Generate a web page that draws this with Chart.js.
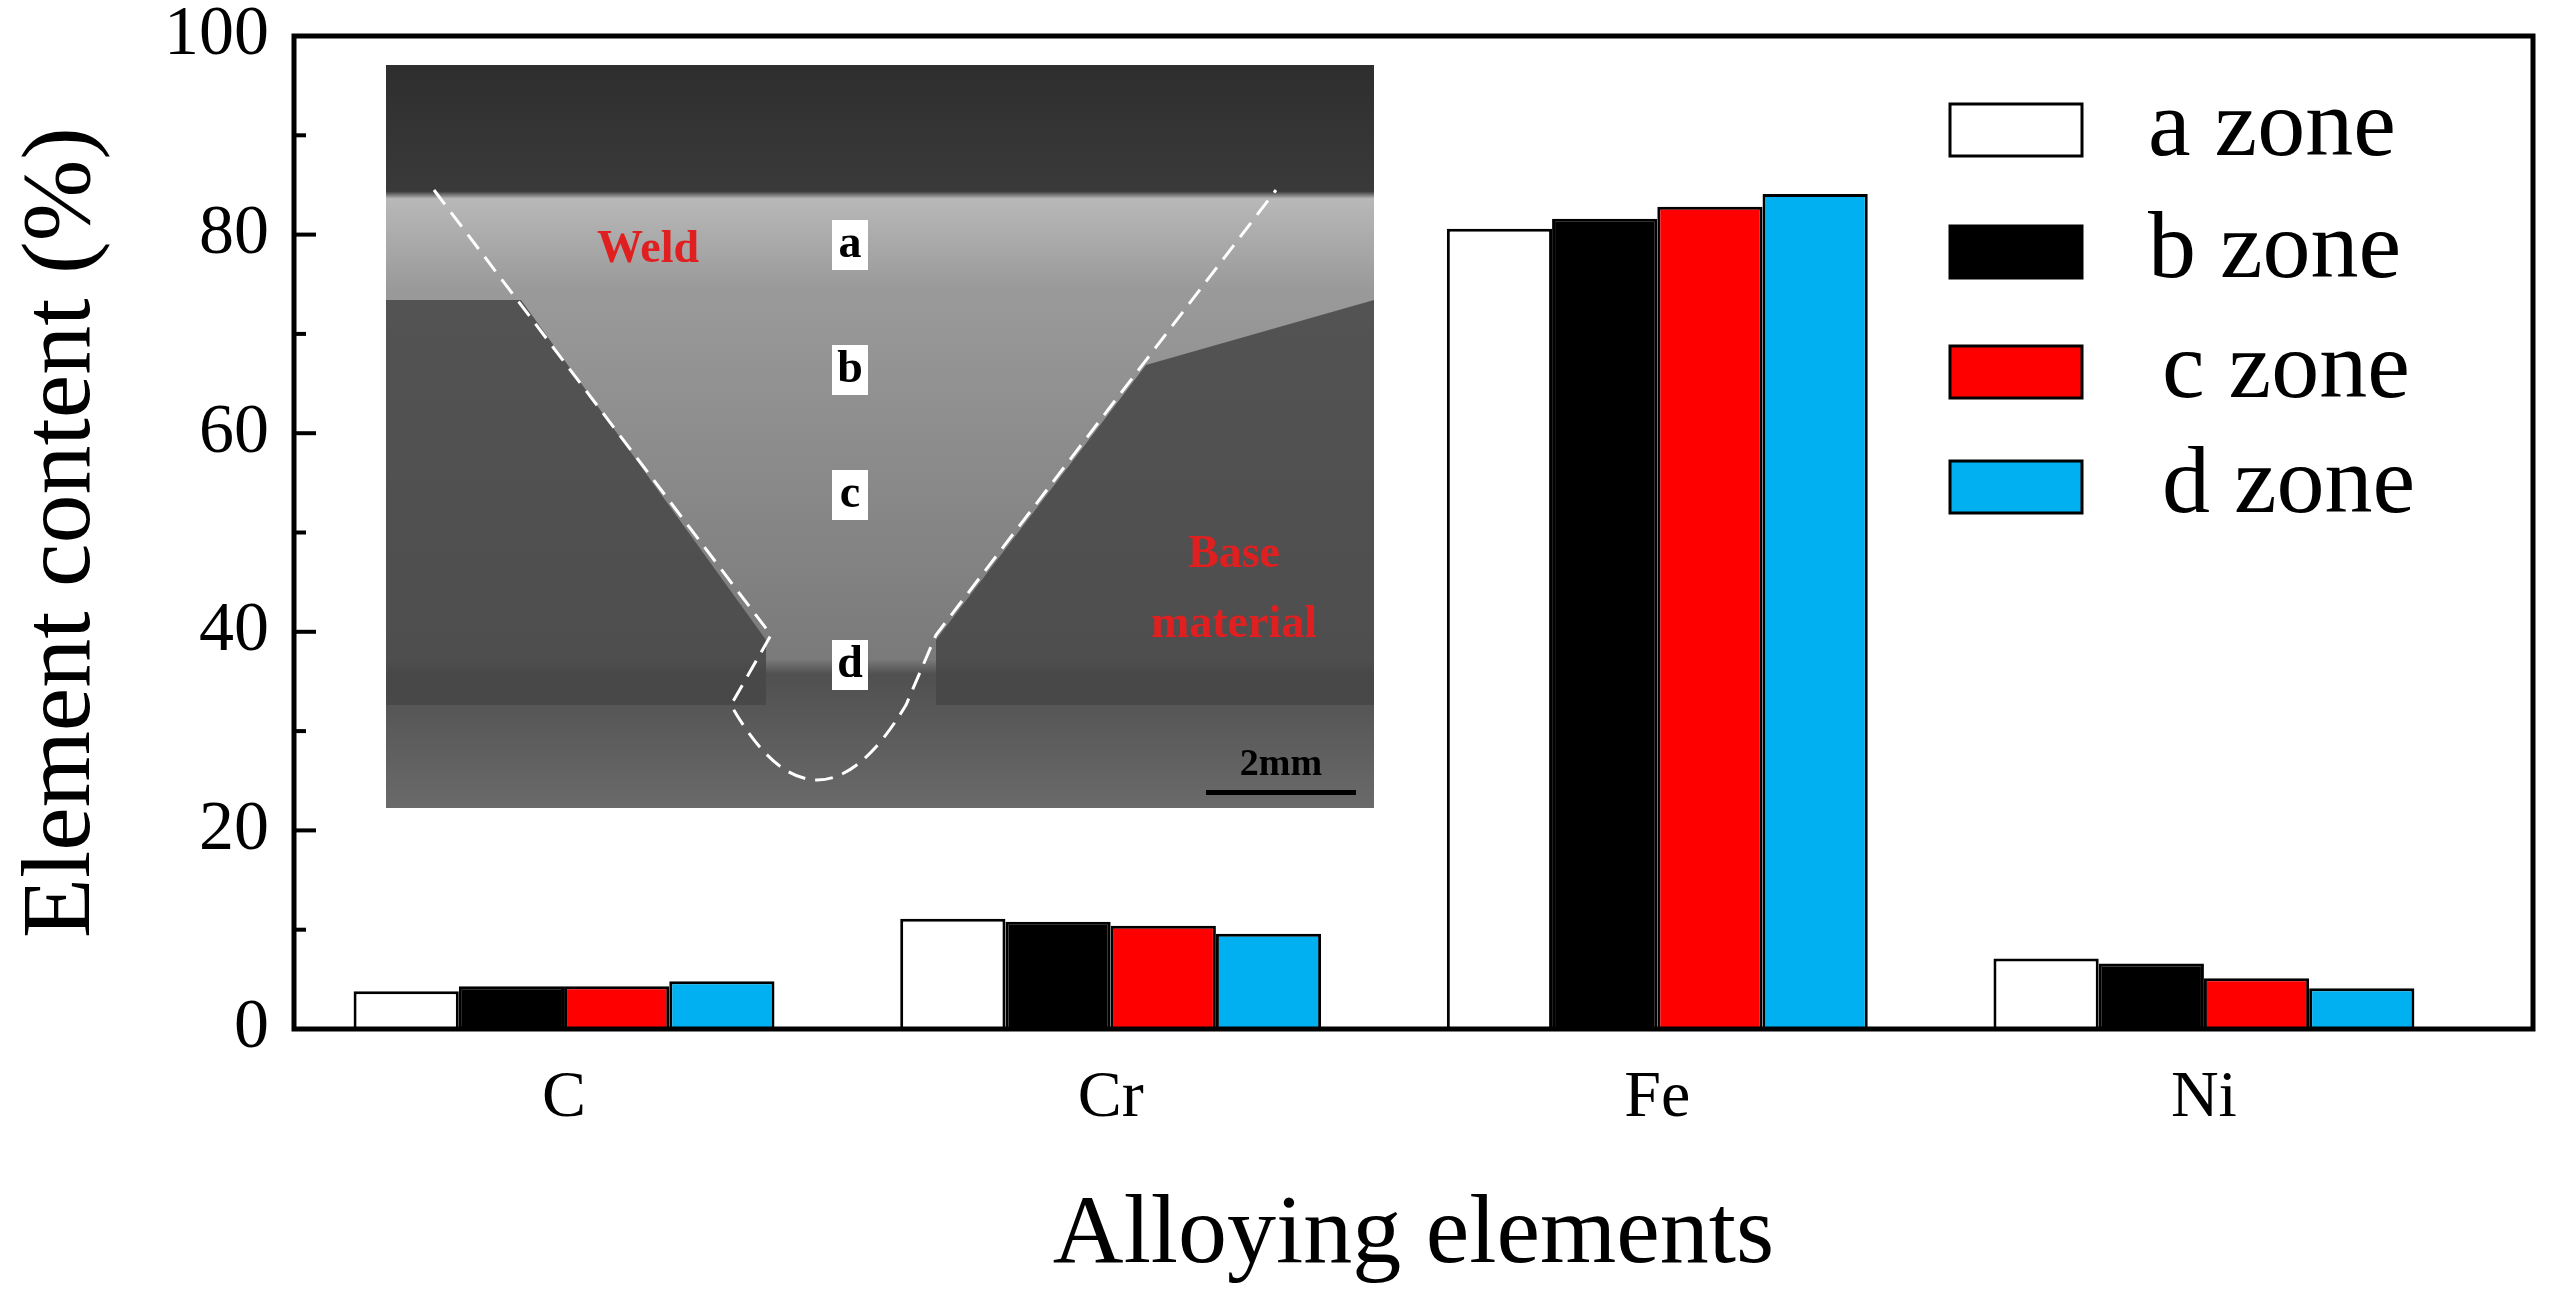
<!DOCTYPE html>
<html><head><meta charset="utf-8">
<script src="https://cdn.jsdelivr.net/npm/chart.js@4/dist/chart.umd.min.js"></script>
<style>html,body{margin:0;background:#fff}#wrap{width:2565px;height:1299px}</style>
</head><body><div id="wrap"><canvas id="grafico"></canvas></div>
<script>
var elementos = ["C", "Cr", "Fe", "Ni"];
var zonaA = [3.8, 11.1, 80.6, 7.1];
var zonaB = [4.3, 10.8, 81.6, 6.6];
var zonaC = [4.3, 10.4, 82.8, 5.1];
var zonaD = [4.8, 9.6, 84.1, 4.1];
var rotulos = ["a zone", "b zone", "c zone", "d zone"];
var cores = ["#ffffff", "#000000", "#ff0000", "#00b0f0"];
var ticksY = [0, 20, 40, 60, 80, 100];

var FONTE = "'Liberation Serif', 'Times New Roman', serif";

// moldura, ticks internos, inset da micrografia e legenda
var extras = {
	id: "extras",
	afterDraw: function(chart){
		var ctx = chart.ctx, a = chart.chartArea, y = chart.scales.y;
		ctx.save();
		// inset (placeholder of the micrograph)
		var ix = 386, iy = 65, iw = 988, ih = 743;
		var g = ctx.createLinearGradient(0, iy, 0, iy + ih);
		g.addColorStop(0, "#2e2e2e"); g.addColorStop(0.17, "#3a3a3a");
		g.addColorStop(0.18, "#b8b8b8"); g.addColorStop(0.3, "#9a9a9a");
		g.addColorStop(0.8, "#7a7a7a"); g.addColorStop(0.82, "#505050");
		g.addColorStop(1, "#6a6a6a");
		ctx.fillStyle = g; ctx.fillRect(ix, iy, iw, ih);
		ctx.fillStyle = "rgba(70,70,70,0.85)";
		ctx.beginPath(); ctx.moveTo(ix, iy + 235); ctx.lineTo(ix + 135, iy + 235);
		ctx.lineTo(ix + 380, iy + 575); ctx.lineTo(ix + 380, iy + 640); ctx.lineTo(ix, iy + 640); ctx.fill();
		ctx.beginPath(); ctx.moveTo(ix + iw, iy + 235); ctx.lineTo(ix + 760, iy + 300);
		ctx.lineTo(ix + 550, iy + 575); ctx.lineTo(ix + 550, iy + 640); ctx.lineTo(ix + iw, iy + 640); ctx.fill();
		ctx.strokeStyle = "#fff"; ctx.lineWidth = 3; ctx.setLineDash([18, 10]);
		ctx.beginPath(); ctx.moveTo(ix + 48, iy + 125); ctx.lineTo(ix + 385, iy + 570);
		ctx.lineTo(ix + 345, iy + 640); ctx.quadraticCurveTo(ix + 430, iy + 790, ix + 520, iy + 640);
		ctx.lineTo(ix + 550, iy + 570); ctx.lineTo(ix + 890, iy + 125); ctx.stroke();
		ctx.setLineDash([]);
		ctx.font = "bold 46px " + FONTE; ctx.textAlign = "center"; ctx.textBaseline = "middle";
		[["a", 180], ["b", 305], ["c", 430], ["d", 600]].forEach(function(p){
			ctx.fillStyle = "#fff"; ctx.fillRect(ix + 446, iy + p[1] - 25, 36, 50);
			ctx.fillStyle = "#000"; ctx.fillText(p[0], ix + 464, iy + p[1]);
		});
		ctx.fillStyle = "#e02020";
		ctx.fillText("Weld", ix + 262, iy + 185);
		ctx.fillText("Base", ix + 848, iy + 490);
		ctx.fillText("material", ix + 848, iy + 560);
		ctx.fillStyle = "#000"; ctx.font = "bold 38px " + FONTE;
		ctx.fillText("2mm", ix + 895, iy + 700);
		ctx.fillRect(ix + 820, iy + 725, 150, 5);
		// moldura
		ctx.strokeStyle = "#000"; ctx.lineWidth = 5;
		ctx.strokeRect(a.left, a.top, a.right - a.left, a.bottom - a.top);
		ctx.lineWidth = 4;
		for (var v = 10; v < 100; v += 10) {
			var py = y.getPixelForValue(v);
			ctx.beginPath(); ctx.moveTo(a.left, py); ctx.lineTo(a.left + (v % 20 ? 12 : 22), py); ctx.stroke();
		}
		// legenda
		ctx.textAlign = "left"; ctx.textBaseline = "middle"; ctx.font = "96px " + FONTE;
		var ly = [130, 252, 372, 487];
		chart.data.datasets.forEach(function(ds, i){
			ctx.fillStyle = ds.backgroundColor; ctx.fillRect(1950, ly[i] - 26, 132, 52);
			ctx.lineWidth = 3; ctx.strokeStyle = "#000"; ctx.strokeRect(1950, ly[i] - 26, 132, 52);
			ctx.fillStyle = "#000"; ctx.fillText(ds.label, i == 2 || i == 3 ? 2162 : 2148, ly[i]);
		});
		ctx.restore();
	}
};

var conjuntos = [zonaA, zonaB, zonaC, zonaD].map(function(d, i){
	return { label: rotulos[i], data: d, backgroundColor: cores[i], borderColor: "#000", borderWidth: 3,
		barPercentage: 1, categoryPercentage: 0.77 };
});

function semPadding(s){ s.paddingTop = 0; s.paddingBottom = 0; s.paddingLeft = 0; s.paddingRight = 0; }

new Chart(document.getElementById("grafico"), {
	type: "bar",
	data: { labels: elementos, datasets: conjuntos },
	plugins: [extras],
	options: {
		responsive: true, maintainAspectRatio: false, animation: false,
		layout: { padding: { top: 36, right: 32, left: 0, bottom: 0 } },
		plugins: { legend: { display: false }, tooltip: { enabled: false } },
		scales: {
			x: {
				grid: { display: false, drawTicks: false }, border: { display: false },
				ticks: { color: "#000", font: { family: FONTE, size: 66 }, padding: 30 },
				title: { display: true, text: "Alloying elements", color: "#000", font: { family: FONTE, size: 98 }, padding: { top: 30 } },
				afterFit: function(s){ s.height = 270; semPadding(s); },
				// categorias um pouco mais juntas e deslocadas à esquerda, como no original
				afterUpdate: function(s){ s._startValue = -0.494; s._valueRange = 4.096; }
			},
			y: {
				min: 0, max: 100,
				afterBuildTicks: function(s){ s.ticks = ticksY.map(function(v){ return { value: v }; }); },
				grid: { display: false, drawTicks: false }, border: { display: false },
				ticks: { color: "#000", font: { family: FONTE, size: 70 }, padding: 25 },
				title: { display: true, text: "Element content (%)", color: "#000", font: { family: FONTE, size: 98 }, padding: { bottom: 5 } },
				afterFit: function(s){ s.width = 294; semPadding(s); }
			}
		}
	}
});
</script>
</body></html>
